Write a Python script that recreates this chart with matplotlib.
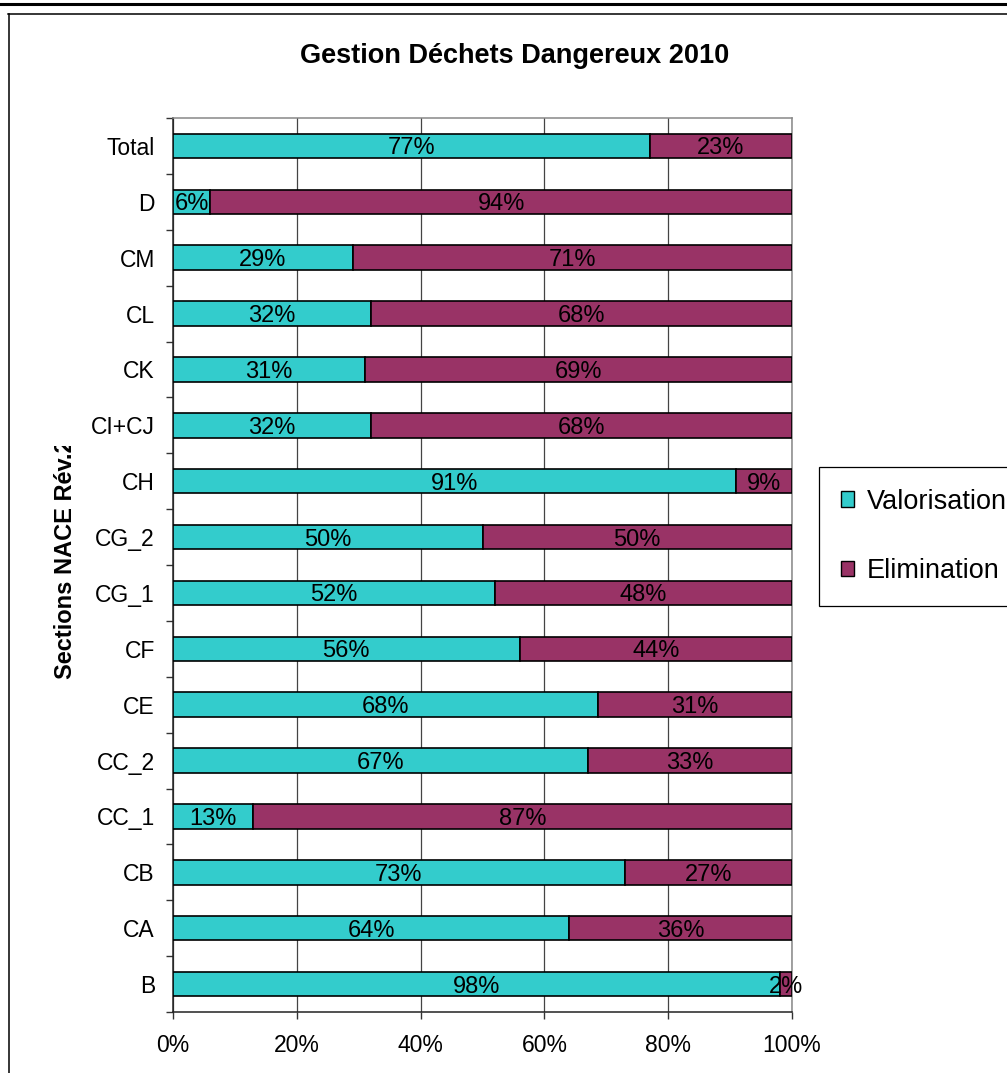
import matplotlib
matplotlib.use("Agg")
import matplotlib.pyplot as plt
import numpy as np
from matplotlib.lines import Line2D
from matplotlib.transforms import Bbox, TransformedBbox

plt.rcParams["font.family"] = ["Liberation Sans", "DejaVu Sans"]

# NACE sections, bottom to top, with the share of hazardous waste per treatment (%)
sections = ["B", "CA", "CB", "CC_1", "CC_2", "CE", "CF", "CG_1", "CG_2",
            "CH", "CI+CJ", "CK", "CL", "CM", "D", "Total"]
valorisation = [98, 64, 73, 13, 67, 68, 56, 52, 50, 91, 32, 31, 32, 29, 6, 77]
elimination = [2, 36, 27, 87, 33, 31, 44, 48, 50, 9, 68, 69, 68, 71, 94, 23]
series_names = ["Valorisation", "Elimination"]
colours = ["#33CCCC", "#993366"]

W, H = 1007, 1073
fig = plt.figure(figsize=(W / 100, H / 100), dpi=100)
ax = fig.add_axes([173 / W, 1 - 1012 / H, (792 - 173) / W, (1012 - 118) / H])

# 100% stacked: each row is normalised to its own total
val = np.array(valorisation, dtype=float)
eli = np.array(elimination, dtype=float)
tot = val + eli
val_pct = val / tot * 100
eli_pct = eli / tot * 100

y = np.arange(len(sections))
bh = 0.44
b1 = ax.barh(y, val_pct, height=bh, color=colours[0], edgecolor="black",
             linewidth=1.2, label=series_names[0], zorder=3)
b2 = ax.barh(y, eli_pct, left=val_pct, height=bh, color=colours[1],
             edgecolor="black", linewidth=1.2, label=series_names[1], zorder=3)

for i in range(len(sections)):
    ax.text(val_pct[i] / 2, y[i], f"{valorisation[i]}%", ha="center",
            va="center_baseline", fontsize=17, zorder=4)
    ax.text(val_pct[i] + eli_pct[i] / 2, y[i], f"{elimination[i]}%",
            ha="center", va="center_baseline", fontsize=17, zorder=4)

ax.set_xlim(0, 100)
ax.set_ylim(-0.5, len(sections) - 0.5)
ax.set_xticks(np.arange(0, 101, 20))
ax.set_xticklabels([f"{v}%" for v in range(0, 101, 20)], fontsize=16.5)
ax.set_yticks(y)
ax.set_yticklabels(sections, fontsize=16.5)
ax.set_yticks(np.arange(-0.5, len(sections), 1), minor=True)
ax.tick_params(axis="y", which="major", length=0, pad=13)
ax.tick_params(axis="y", which="minor", length=5, width=1, color="#333333",
               direction="out")
ax.tick_params(axis="x", length=5, width=1, color="#333333", pad=11)

ax.xaxis.grid(True, color="#444444", linewidth=0.9, zorder=0)
ax.set_axisbelow(True)
for side in ["left", "bottom"]:
    ax.spines[side].set_color("#222222")
    ax.spines[side].set_linewidth(1.1)
for side in ["top", "right"]:
    ax.spines[side].set_color("#888888")
    ax.spines[side].set_linewidth(1.1)

fig.text(515 / W, 1 - 56 / H, "Gestion Déchets Dangereux 2010",
         ha="center", va="center", fontsize=19.5, fontweight="bold")

# axis title, cut off at the top as in the original export
ylab = fig.text(66 / W, 1 - 559 / H, "Sections NACE Rév.2", rotation=90,
                ha="center", va="center", fontsize=17, fontweight="bold")
ylab.set_clip_box(TransformedBbox(Bbox([[0, 0], [1, 1 - 446 / H]]),
                                  fig.transFigure))
ylab.set_clip_on(True)

leg = ax.legend(handles=[b1, b2], loc="upper left",
                bbox_to_anchor=(819 / W, 1 - 467 / H),
                bbox_transform=fig.transFigure, fontsize=19.5,
                frameon=True, fancybox=False, framealpha=1,
                edgecolor="black", borderpad=0.8, labelspacing=1.6,
                handlelength=0.5, handleheight=0.5, handletextpad=0.45,
                borderaxespad=0)
leg.get_frame().set_linewidth(0.9)
for h in leg.legend_handles:
    h.set_edgecolor("black")
    h.set_linewidth(1.0)

# page rule and chart border
fig.add_artist(Line2D([0, 1], [1 - 3.5 / H] * 2, transform=fig.transFigure,
                      color="black", linewidth=2.2))
fig.add_artist(Line2D([8 / W, 1.01], [1 - 13.5 / H] * 2,
                      transform=fig.transFigure, color="black", linewidth=1.1))
fig.add_artist(Line2D([8.5 / W] * 2, [1 - 13.5 / H, -0.01],
                      transform=fig.transFigure, color="black", linewidth=1.1))

fig.savefig("out.png", dpi=100)
